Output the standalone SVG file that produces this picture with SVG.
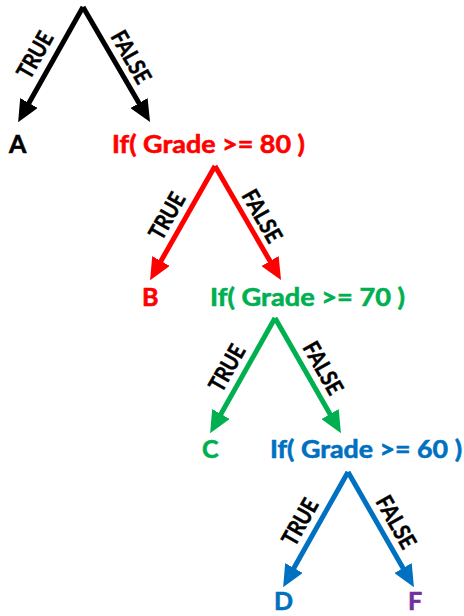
<svg xmlns="http://www.w3.org/2000/svg" width="464" height="616" viewBox="0 0 464 616">
<style>
text{font-family:Lato,"Liberation Sans",sans-serif;font-weight:700}
.n{font-size:25px;stroke-width:0.6}
.l{font-size:23px;fill:#000;text-anchor:middle;stroke:#000;stroke-width:0.5}
.k{stroke:#000}.r{stroke:#FF0000}.g{stroke:#00B050}.b{stroke:#0070C0}
line{stroke-width:5;fill:none}
</style>
<defs>
<marker id="mk" markerUnits="userSpaceOnUse" markerWidth="22" markerHeight="20" viewBox="0 0 22 20" refX="8" refY="10" orient="auto"><path d="M0,0L22,10L0,20z" fill="#000"/></marker>
<marker id="mr" markerUnits="userSpaceOnUse" markerWidth="22" markerHeight="20" viewBox="0 0 22 20" refX="8" refY="10" orient="auto"><path d="M0,0L22,10L0,20z" fill="#FF0000"/></marker>
<marker id="mg" markerUnits="userSpaceOnUse" markerWidth="22" markerHeight="20" viewBox="0 0 22 20" refX="8" refY="10" orient="auto"><path d="M0,0L22,10L0,20z" fill="#00B050"/></marker>
<marker id="mb" markerUnits="userSpaceOnUse" markerWidth="22" markerHeight="20" viewBox="0 0 22 20" refX="8" refY="10" orient="auto"><path d="M0,0L22,10L0,20z" fill="#0070C0"/></marker>
</defs>
<g id="connectors">
<line class="k" x1="83" y1="7" x2="25" y2="110" marker-end="url(#mk)"/>
<line class="k" x1="83" y1="7" x2="143" y2="110" marker-end="url(#mk)"/>
<line class="r" x1="215" y1="166" x2="157" y2="268" marker-end="url(#mr)"/>
<line class="r" x1="215" y1="166" x2="274" y2="268" marker-end="url(#mr)"/>
<line class="g" x1="275" y1="318" x2="217" y2="421" marker-end="url(#mg)"/>
<line class="g" x1="275" y1="318" x2="334" y2="421" marker-end="url(#mg)"/>
<line class="b" x1="348" y1="472" x2="290" y2="575" marker-end="url(#mb)"/>
<line class="b" x1="348" y1="472" x2="407" y2="575" marker-end="url(#mb)"/>
<text class="l" transform="translate(35,55) rotate(-60.5)" y="8" textLength="50" lengthAdjust="spacingAndGlyphs">TRUE</text>
<text class="l" transform="translate(131,57) rotate(60.5)" y="8" textLength="57" lengthAdjust="spacingAndGlyphs">FALSE</text>
<text class="l" transform="translate(167,216) rotate(-60.5)" y="8" textLength="50" lengthAdjust="spacingAndGlyphs">TRUE</text>
<text class="l" transform="translate(262,216) rotate(60.5)" y="8" textLength="57" lengthAdjust="spacingAndGlyphs">FALSE</text>
<text class="l" transform="translate(227,368) rotate(-60.5)" y="8" textLength="50" lengthAdjust="spacingAndGlyphs">TRUE</text>
<text class="l" transform="translate(323,368) rotate(60.5)" y="8" textLength="57" lengthAdjust="spacingAndGlyphs">FALSE</text>
<text class="l" transform="translate(300,522) rotate(-60.5)" y="8" textLength="50" lengthAdjust="spacingAndGlyphs">TRUE</text>
<text class="l" transform="translate(396,522) rotate(60.5)" y="8" textLength="57" lengthAdjust="spacingAndGlyphs">FALSE</text>
</g>
<g id="nodeA"><text class="n" x="9" y="153" fill="#000" stroke="#000">A</text></g>
<g id="if80"><text class="n" x="112" y="153" fill="#FF0000" stroke="#FF0000" textLength="193" lengthAdjust="spacingAndGlyphs">If( Grade &gt;= 80 )</text></g>
<g id="nodeB"><text class="n" x="142" y="306" fill="#FF0000" stroke="#FF0000">B</text></g>
<g id="if70"><text class="n" x="210" y="306" fill="#00B050" stroke="#00B050" textLength="195" lengthAdjust="spacingAndGlyphs">If( Grade &gt;= 70 )</text></g>
<g id="nodeC"><text class="n" x="202" y="458" fill="#00B050" stroke="#00B050">C</text></g>
<g id="if60"><text class="n" x="270" y="458" fill="#0070C0" stroke="#0070C0" textLength="192" lengthAdjust="spacingAndGlyphs">If( Grade &gt;= 60 )</text></g>
<g id="nodeD"><text class="n" x="274" y="610" fill="#0070C0" stroke="#0070C0">D</text></g>
<g id="nodeF"><text class="n" x="408" y="610" fill="#7030A0" stroke="#7030A0">F</text></g>
</svg>
